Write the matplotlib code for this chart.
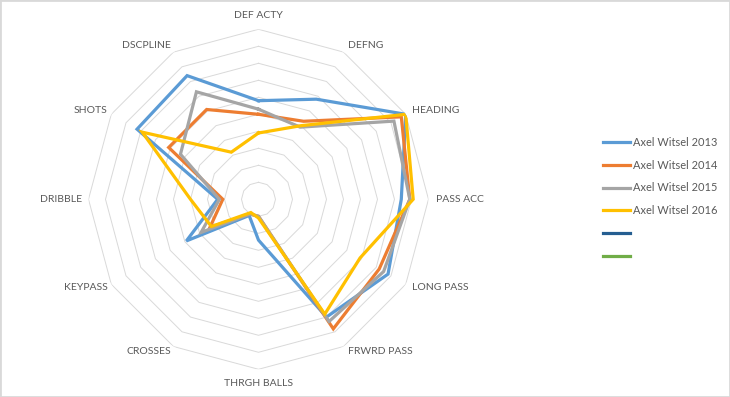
import matplotlib
import numpy as np

matplotlib.use("Agg")
import matplotlib.pyplot as plt  # noqa: E402
from matplotlib.lines import Line2D  # noqa: E402
from matplotlib.patches import Rectangle  # noqa: E402

plt.rcParams["font.family"] = ["Lato", "DejaVu Sans"]

categories = [
    "DEF ACTY", "DEFNG", "HEADING", "PASS ACC", "LONG PASS", "FRWRD PASS",
    "THRGH BALLS", "CROSSES", "KEYPASS", "DRIBBLE", "SHOTS", "DSCPLINE",
]
witsel_2013 = [5.8, 6.8, 10.0, 8.4, 8.8, 8.0, 2.4, 1.1, 4.9, 2.4, 8.25, 8.4]
witsel_2014 = [5.0, 5.3, 9.7, 8.9, 8.2, 8.8, 1.0, 1.0, 3.3, 2.1, 6.1, 6.1]
witsel_2015 = [5.3, 4.9, 9.2, 8.9, 8.5, 8.3, 1.0, 1.0, 3.9, 2.3, 5.3, 7.3]
witsel_2016 = [3.9, 5.0, 10.0, 9.1, 6.9, 7.8, 1.1, 0.9, 3.2, 4.0, 7.9, 3.2]
series_names = ["Axel Witsel 2013", "Axel Witsel 2014", "Axel Witsel 2015", "Axel Witsel 2016", "", ""]
rings = list(range(1, 11))

colors = ["#5B9BD5", "#ED7D31", "#A5A5A5", "#FFC000", "#255E91", "#70AD47"]
TXT = "#595959"
FS = 7.5

n = len(categories)
theta = np.arange(n) * 2 * np.pi / n
theta_c = np.append(theta, theta[0])

fig = plt.figure(figsize=(7.30, 3.97), dpi=100)
ax = fig.add_axes([0.1212, 0.0698, 0.4658, 0.8564], projection="polar")
ax.set_theta_zero_location("N")
ax.set_theta_direction(-1)
ax.set_ylim(0, 10)
ax.grid(False)
ax.set_xticks([])
ax.set_yticks([])
ax.spines["polar"].set_visible(False)
ax.patch.set_visible(False)

# polygon gridlines like Excel's radar
for r in rings:
    ax.plot(theta_c, [r] * (n + 1), color="#d9d9d9", lw=0.7, zorder=1)

for vals, col in zip([witsel_2013, witsel_2014, witsel_2015, witsel_2016], colors):
    ax.plot(theta_c, vals + vals[:1], color=col, lw=2.3, zorder=3, solid_joinstyle="miter")

# label offsets (px) from outer vertex
offs = [(0, 14, "center"), (4.5, 7, "left"), (6, 4, "left"), (8, 0, "left"),
        (6, -3, "left"), (4.5, -5, "left"), (0, -14, "center"), (-2, -5, "right"),
        (-4, -3, "right"), (-6, 0, "right"), (-4, 4, "right"), (-2.5, 7, "right")]
for t, lab, (dx, dy, ha) in zip(theta, categories, offs):
    ax.annotate(lab, xy=(t, 10), xytext=(dx * 0.72, dy * 0.72), textcoords="offset points",
                ha=ha, va="center", fontsize=FS, color=TXT, annotation_clip=False)

handles = [Line2D([], [], color=c, lw=2.3) for c in colors]
fig.legend(handles, series_names, loc="center left", bbox_to_anchor=(0.826, 0.498),
           frameon=False, fontsize=7.9, labelcolor=TXT, handlelength=2.5, handletextpad=0.2,
           labelspacing=1.08, borderpad=0, borderaxespad=0)

fig.add_artist(Rectangle((0, 0), 1, 1, transform=fig.transFigure, fill=False,
                         ec="#d9d9d9", lw=2))

fig.savefig("out.png", dpi=100)
